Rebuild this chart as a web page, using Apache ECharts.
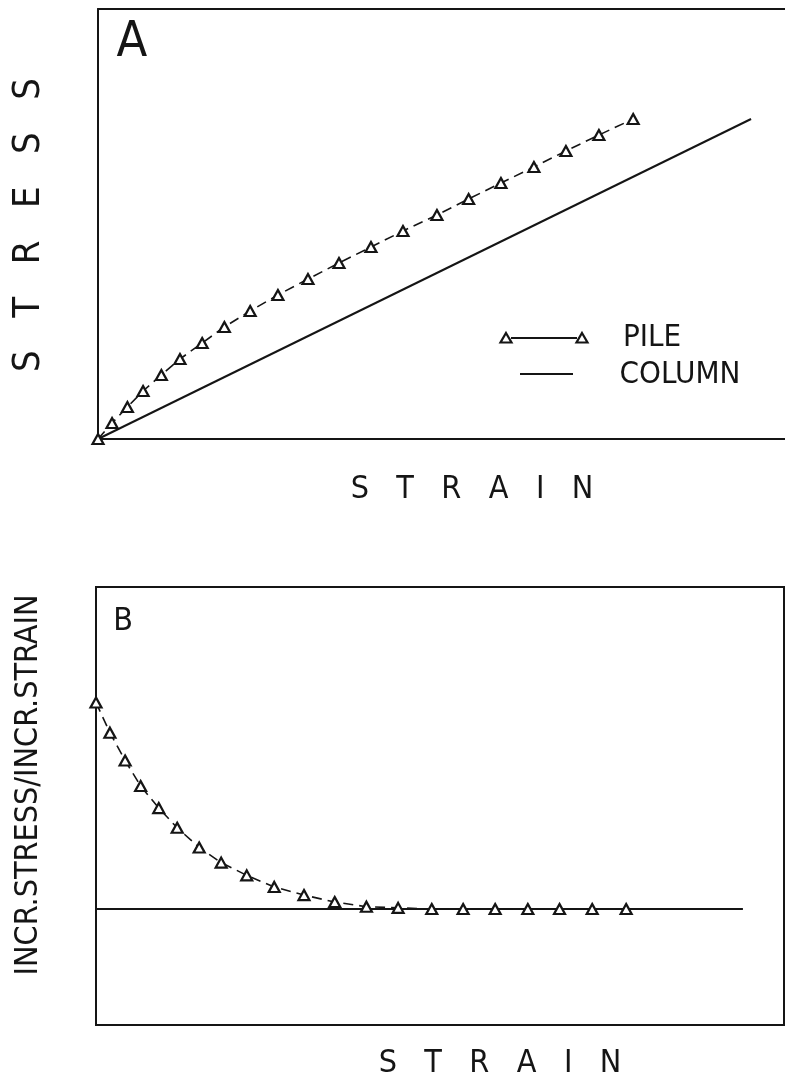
<!DOCTYPE html>
<html>
<head>
<meta charset="utf-8">
<script src="https://cdn.jsdelivr.net/npm/echarts@6/dist/echarts.min.js"></script>
<style>
  html, body { margin: 0; padding: 0; background: #fff; }
  #chart { width: 785px; height: 1092px; }
</style>
</head>
<body>
<div id="chart"></div>
<script>
// strain at each pile reading (same strain steps used in both panels)
const pileStrain = [0, 0.43, 0.9, 1.38, 1.94, 2.51, 3.19, 3.87, 4.66, 5.51, 6.43,
  7.38, 8.36, 9.34, 10.38, 11.35, 12.34, 13.35, 14.33, 15.34, 16.39];
// panel A: stress of the pile
const pileStress = [0, 1, 2, 3, 4, 5, 6, 7, 8, 9, 10, 11, 12, 13, 14, 15, 16, 17, 18, 19, 20];
// panel A: column, straight line
const columnStrain = [0, 20];
const columnStress = [0, 20];
// panel B: incr. stress / incr. strain
const pileModulus = [2.78, 2.52, 2.28, 2.06, 1.87, 1.70, 1.53, 1.40, 1.29, 1.19, 1.12,
  1.06, 1.02, 1.01, 1.0, 1.0, 1.0, 1.0, 1.0, 1.0, 1.0];
const columnModulus = [1, 1];

const INK = "#151515";
const FONT = "'Liberation Sans Narrow', 'DejaVu Sans Condensed', 'Liberation Sans', sans-serif";

const zip = (xs, ys) => xs.map((x, i) => [x, ys[i]]);

const frameAxis = (gridIndex, max, showLine, position) => ({
  type: "value",
  gridIndex,
  position,
  min: 0,
  max,
  axisLine: { show: showLine, onZero: false, lineStyle: { color: INK, width: 2 } },
  axisTick: { show: false },
  axisLabel: { show: false },
  splitLine: { show: false },
});

const pileSeries = (xi, data) => ({
  type: "line",
  xAxisIndex: xi,
  yAxisIndex: xi,
  data,
  symbol: "triangle",
  symbolSize: [11, 10],
  itemStyle: { color: "#fff", borderColor: INK, borderWidth: 2.2 },
  lineStyle: { color: INK, width: 1.6, type: [10, 6] },
  z: 3,
});

const columnSeries = (xi, data) => ({
  type: "line",
  xAxisIndex: xi,
  yAxisIndex: xi,
  data,
  symbol: "none",
  lineStyle: { color: INK, width: 2 },
  z: 2,
});

const label = (text, x, y, size, rot) => ({
  type: "text",
  x,
  y,
  rotation: rot || 0,
  style: {
    text,
    fontSize: size,
    fontFamily: FONT,
    fill: INK,
    align: "center",
    verticalAlign: "middle",
  },
});

const tri = (cx, cy) => ({
  type: "polygon",
  shape: { points: [[cx, cy - 5], [cx + 5.5, cy + 4.5], [cx - 5.5, cy + 4.5]] },
  style: { fill: "#fff", stroke: INK, lineWidth: 2.2 },
});

const chart = echarts.init(document.getElementById("chart"));
chart.setOption({
  backgroundColor: "#fff",
  animation: false,
  grid: [
    // panel A: frame runs off the right edge, so no right border
    { left: 98, top: 9, width: 687, height: 430, show: false },
    { left: 96, top: 587, width: 688, height: 438, show: true, borderColor: INK, borderWidth: 2 },
  ],
  xAxis: [
    frameAxis(0, 21.04, true, "bottom"),
    frameAxis(1, 21.27, false, "bottom"),
    frameAxis(0, 21.04, true, "top"),
  ],
  yAxis: [
    frameAxis(0, 26.875, true, "left"),
    frameAxis(1, 3.776, false, "left"),
  ],
  series: [
    pileSeries(0, zip(pileStrain, pileStress)),
    columnSeries(0, zip(columnStrain, columnStress)),
    pileSeries(1, zip(pileStrain, pileModulus)),
    columnSeries(1, zip(columnStrain, columnModulus)),
  ],
  graphic: [
    label("A", 132, 43, 50),
    label("B", 123, 622, 32),
    label("S   T   R   E   S   S", 29, 225, 38, Math.PI / 2),
    label("INCR.STRESS/INCR.STRAIN", 29, 785, 32, Math.PI / 2),
    label("S   T   R   A   I   N", 472, 490, 32),
    label("S   T   R   A   I   N", 500, 1064, 32),
    // legend
    { type: "line", shape: { x1: 511, y1: 338, x2: 577, y2: 338 }, style: { stroke: INK, lineWidth: 2 } },
    tri(506, 338),
    tri(582, 338),
    label("PILE", 652, 338, 31),
    { type: "line", shape: { x1: 520, y1: 374, x2: 573, y2: 374 }, style: { stroke: INK, lineWidth: 2 } },
    label("COLUMN", 680, 375, 31),
  ],
});
</script>
</body>
</html>
